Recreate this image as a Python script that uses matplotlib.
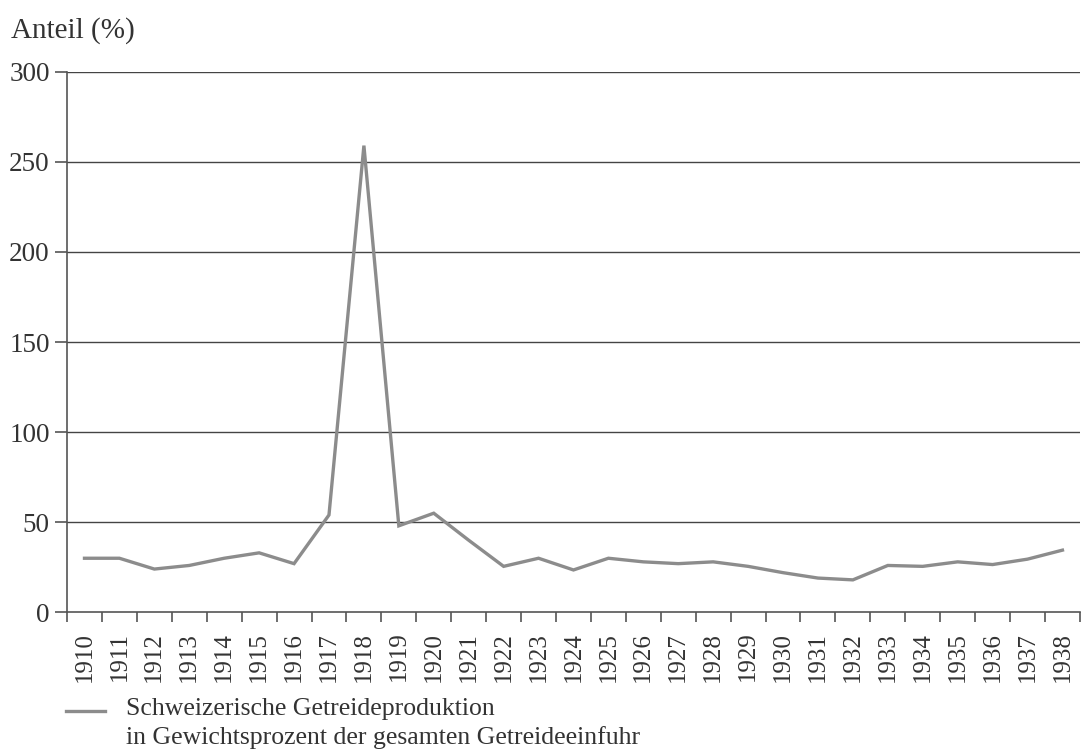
import numpy as np
import matplotlib.pyplot as plt
from matplotlib.lines import Line2D

plt.rcParams['font.family'] = ['Liberation Serif', 'DejaVu Serif']

years = list(range(1910, 1939))
anteil = [30, 30, 24, 26, 30, 33, 27, 54, 259, 48, 55, 40, 25.5, 30, 23.5, 30,
          28, 27, 28, 25.5, 22, 19, 18, 26, 25.5, 28, 26.5, 29.5, 34.5]
yticks = [0, 50, 100, 150, 200, 250, 300]
legend_text = "Schweizerische Getreideproduktion\nin Gewichtsprozent der gesamten Getreideeinfuhr"

line_col = '#8c8c8c'
ax_col = '#555555'
txt_col = '#333333'

fig = plt.figure(figsize=(10.81, 7.55), dpi=100)
ax = fig.add_axes([0.062, 0.189, 0.937, 0.716])

x = np.arange(len(years))
ax.plot(x, anteil, color=line_col, lw=2.4, solid_joinstyle='miter', zorder=3)

ax.set_ylim(0, 300)
ax.set_xlim(-0.5, len(years) - 0.5)
ax.set_yticks(yticks)
ax.set_yticklabels([str(v) for v in yticks], fontsize=19.5, color=txt_col)
for v in yticks[1:]:
    ax.axhline(v, color='#444444', lw=1.0, zorder=1)

# tick marks on the category boundaries, labels in the middle
ax.set_xticks(np.arange(len(years) + 1) - 0.5)
ax.set_xticklabels([])
ax.set_xticks(x, minor=True)
ax.set_xticklabels([str(y) for y in years], minor=True, rotation=90,
                   fontsize=18, color=txt_col)
ax.tick_params(axis='x', which='major', length=7.5, width=1.2, color=ax_col)
ax.tick_params(axis='x', which='minor', length=0, pad=14)
ax.tick_params(axis='y', length=8.5, width=1.2, color=ax_col, pad=4)

for s in ['top', 'right']:
    ax.spines[s].set_visible(False)
for s in ['left', 'bottom']:
    ax.spines[s].set_color(ax_col)
    ax.spines[s].set_linewidth(1.2)

fig.text(0.010, 0.96, "Anteil (%)", fontsize=21, color=txt_col, va='center')

# legend drawn by hand, like the printed figure
fig.add_artist(Line2D([0.061, 0.097], [0.058, 0.058], color=line_col, lw=2.4))
fig.text(0.1166, 0.075, legend_text, fontsize=18.5, color=txt_col, va='top',
         linespacing=1.3)

fig.savefig('out.png', dpi=100)
